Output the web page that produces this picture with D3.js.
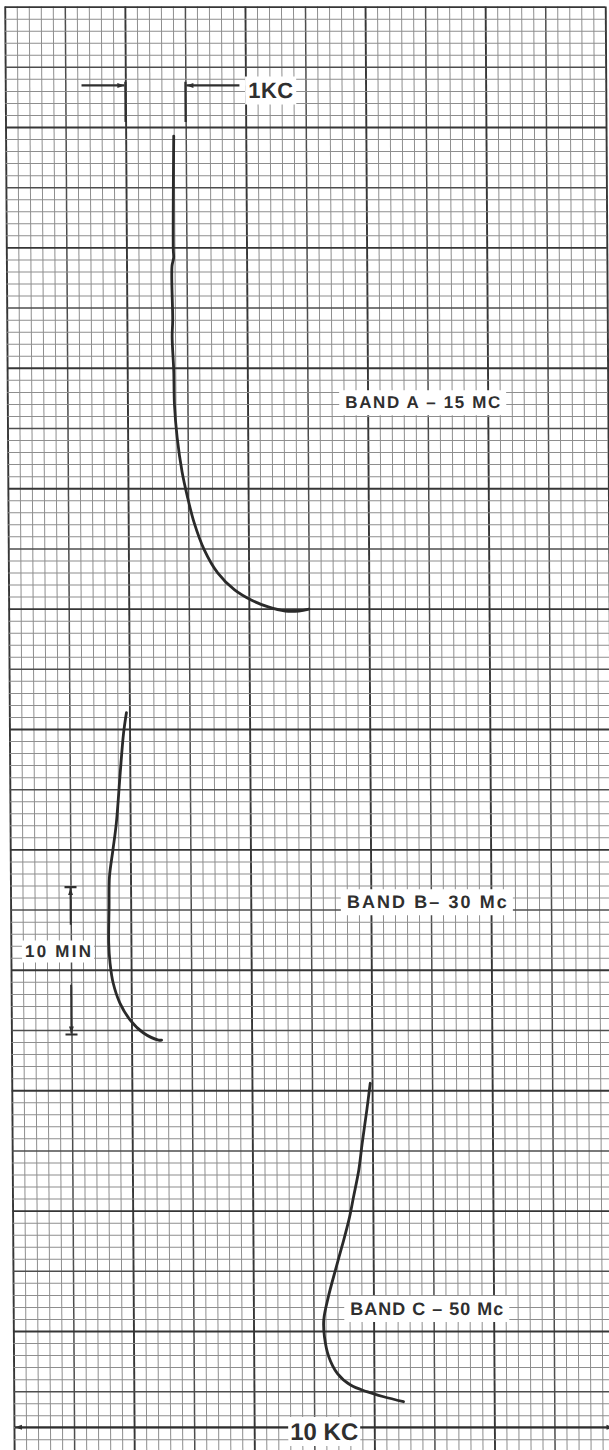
<!DOCTYPE html>
<html><head><meta charset="utf-8">
<script src="https://cdn.jsdelivr.net/npm/d3@7"></script>
<style>body{margin:0;background:#fff}svg{display:block}</style>
</head><body><svg id="c" width="609" height="1450"></svg>
<script>
// ---- data (frequency drift in KC vs elapsed time in minutes) ----
const bandAFreq = [2.80, 2.78, 2.785, 2.757, 2.763, 2.752, 2.775, 2.783, 2.825, 2.903, 2.985, 3.098, 3.262, 3.485, 3.765, 4.04, 4.323, 4.607, 4.832, 5.002];
const bandATime = [8.60, 16.11, 16.70, 17.24, 20.82, 21.95, 24.21, 26.44, 28.66, 30.92, 32.49, 34.29, 36.08, 37.63, 38.76, 39.43, 39.89, 40.16, 40.16, 40.03];
const bandBFreq = [1.95, 1.90, 1.84, 1.77, 1.71, 1.65, 1.64, 1.63, 1.65, 1.70, 1.81, 1.98, 2.20, 2.45, 2.50];
const bandBTime = [46.92, 48.27, 50.92, 54.25, 56.04, 57.81, 59.81, 62.22, 63.55, 64.88, 66.21, 67.34, 68.20, 68.67, 68.67];
const bandCFreq = [5.97, 5.91, 5.83, 5.77, 5.68, 5.60, 5.48, 5.37, 5.25, 5.17, 5.18, 5.25, 5.39, 5.61, 5.88, 6.16, 6.49];
const bandCTime = [71.54, 73.32, 75.51, 77.30, 79.08, 80.62, 82.40, 83.95, 85.72, 87.27, 88.38, 89.71, 90.81, 91.59, 92.03, 92.37, 92.70];
const bandLabels = ["BAND A – 15 MC", "BAND B– 30 Mc", "BAND C – 50 Mc"];
const freqSpanKC = [0, 10];      // full chart width
const timeSpanMin = [0, 96];     // full chart height
const minorKC = 0.2, minorMin = 0.8;

const svg = d3.select("#c");
const x = d3.scaleLinear().domain(freqSpanKC).range([6, 606.5]);
const y = d3.scaleLinear().domain(timeSpanMin).range([6.6, 1451.4]);

// scanned sheet is slightly sheared
const k = 0.0065;
const g = svg.append("g")
  .attr("transform", `translate(${-k*200},0) skewX(${Math.atan(k)*180/Math.PI})`);

// ---- grid via axes ----
const xTicks = d3.range(0, 10 / minorKC + 1).map(i => +(i * minorKC).toFixed(2));
const yTicks = d3.range(0, 96 / minorMin + 1).map(i => +(i * minorMin).toFixed(2));
function lvlX(v){ const r = Math.round(v*10)/10; if (Math.abs(r - Math.round(r)) > 1e-6) return 0; return Math.round(r) % 2 === 0 ? 2 : 1; }
function lvlY(v){ const r = Math.round(v*10)/10; if (Math.abs(r/4 - Math.round(r/4)) > 1e-6) return 0; return Math.round(r/4) % 2 === 0 ? 2 : 1; }
const sty = [{c:"#8e8e8e", w:1}, {c:"#4e4e4e", w:1.5}, {c:"#363636", w:1.9}];

const gx = g.append("g").attr("transform", `translate(0,${y(0)})`)
  .call(d3.axisTop(x).tickValues(xTicks).tickSize(-(y(96) - y(0))).tickFormat(""));
gx.select(".domain").remove();
gx.selectAll(".tick line").each(function(d){ const s = sty[lvlX(d)]; d3.select(this).attr("stroke", s.c).attr("stroke-width", s.w); });

const gy = g.append("g").attr("transform", `translate(${x(0)},0)`)
  .call(d3.axisLeft(y).tickValues(yTicks).tickSize(-(x(10) - x(0))).tickFormat(""));
gy.select(".domain").remove();
gy.selectAll(".tick line").each(function(d){ const s = sty[lvlY(d)]; d3.select(this).attr("stroke", s.c).attr("stroke-width", s.w); });

// ---- markers ----
const defs = svg.append("defs");
defs.append("marker").attr("id","ah").attr("viewBox","0 0 10 10").attr("refX",10).attr("refY",5)
  .attr("markerWidth",10).attr("markerHeight",7).attr("markerUnits","userSpaceOnUse").attr("orient","auto")
  .append("path").attr("d","M0,1.5 L10,5 L0,8.5 Z").attr("fill","#2f2f2f");

const ink = "#2f2f2f";
const ann = g.append("g");

function label(txt, kc, mn, size, len, pad){
  const t = ann.append("text").attr("x", x(kc)).attr("y", y(mn))
    .attr("font-family","'Liberation Sans', Arial, sans-serif").attr("font-size", size).attr("font-weight", "bold")
    .attr("fill", ink).attr("textLength", len).attr("lengthAdjust","spacing").text(txt);
  const b = t.node().getBBox();
  ann.insert("rect", () => t.node()).attr("x", b.x - pad).attr("y", b.y - pad/2)
    .attr("width", b.width + 2*pad).attr("height", b.height + pad).attr("fill", "#fff");
  return t;
}

// 1 KC marker
ann.append("line").attr("x1", x(2)).attr("x2", x(2)).attr("y1", y(5.0)).attr("y2", y(7.67)).attr("stroke", ink).attr("stroke-width", 2.2);
ann.append("line").attr("x1", x(3)).attr("x2", x(3)).attr("y1", y(5.0)).attr("y2", y(7.67)).attr("stroke", ink).attr("stroke-width", 2.2);
ann.append("line").attr("x1", x(1.27)).attr("x2", x(2) - 1).attr("y1", y(5.24)).attr("y2", y(5.24)).attr("stroke", ink).attr("stroke-width", 2.2).attr("marker-end","url(#ah)");
ann.append("line").attr("x1", x(3.9)).attr("x2", x(3) + 1).attr("y1", y(5.24)).attr("y2", y(5.24)).attr("stroke", ink).attr("stroke-width", 2.2).attr("marker-end","url(#ah)");
label("1KC", 4.044, 6.07, 22, 45, 3);

// 10 MIN marker
const mTop = 58.5, mBot = 68.3;
[[mTop, 61.0], [mBot, 65.0]].forEach(([a, b]) => {
  ann.append("line").attr("x1", x(1)).attr("x2", x(1)).attr("y1", y(b)).attr("y2", y(a) + (a < b ? 1 : -1))
    .attr("stroke", ink).attr("stroke-width", 2).attr("marker-end","url(#ah)");
  ann.append("line").attr("x1", x(1) - 6).attr("x2", x(1) + 6).attr("y1", y(a)).attr("y2", y(a)).attr("stroke", ink).attr("stroke-width", 2.2);
});
label("10 MIN", 0.235, 63.15, 17, 66, 3);

// 10 KC span
ann.append("line").attr("x1", x(4.6)).attr("x2", x(0) + 1).attr("y1", y(94.4)).attr("y2", y(94.4)).attr("stroke", ink).attr("stroke-width", 2.2).attr("marker-end","url(#ah)");
ann.append("line").attr("x1", x(5.6)).attr("x2", x(10) - 1).attr("y1", y(94.4)).attr("y2", y(94.4)).attr("stroke", ink).attr("stroke-width", 2.2).attr("marker-end","url(#ah)");
label("10 KC", 4.6, 95.25, 24, 68, 2);

// band labels
label(bandLabels[0], 5.627, 26.69, 17, 155, 6);
label(bandLabels[1], 5.60, 59.91, 18, 160, 6);
label(bandLabels[2], 5.613, 86.94, 18, 153, 6);

// ---- curves ----
const line = d3.line().x(d => x(d[0])).y(d => y(d[1])).curve(d3.curveCatmullRom.alpha(0.5));
const series = [[bandAFreq, bandATime], [bandBFreq, bandBTime], [bandCFreq, bandCTime]];
g.append("g").selectAll("path").data(series).join("path")
  .attr("d", s => line(s[0].map((f, i) => [f, s[1][i]])))
  .attr("fill", "none").attr("stroke", "#2a2a2a").attr("stroke-width", 2.8)
  .attr("stroke-linecap","round").attr("stroke-linejoin","round");
</script>
</body></html>
